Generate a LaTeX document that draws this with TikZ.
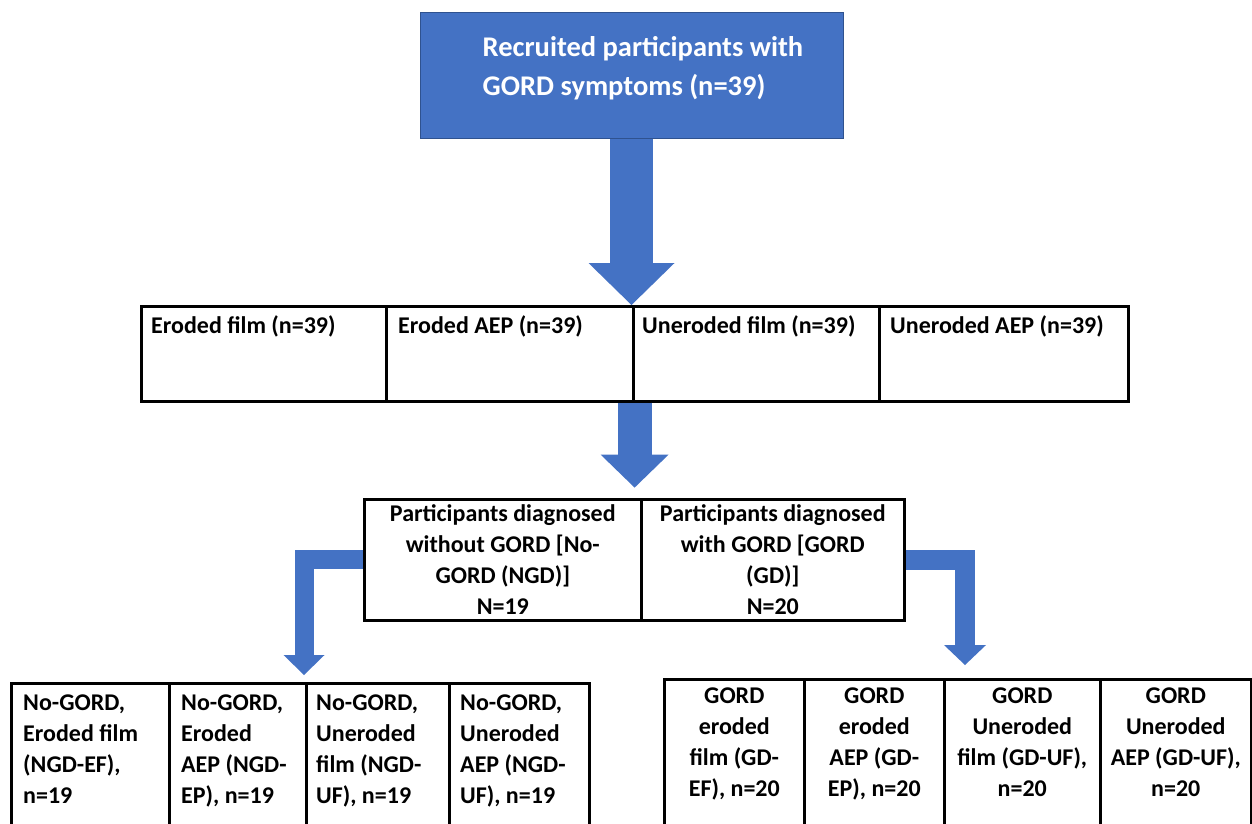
\documentclass[tikz,border=0pt]{standalone}
\usepackage{fontspec}
\setmainfont{Carlito}
\usetikzlibrary{arrows.meta}
\definecolor{boxblue}{HTML}{4472C4}
\definecolor{edgeblue}{HTML}{2F528F}

\begin{document}
\begin{tikzpicture}[x=1pt, y=-1pt,
  cell/.style={draw=black, line width=2.6pt, inner sep=0pt, anchor=north west},
  celltext/.style={font=\bfseries\fontsize{24}{31}\selectfont, inner sep=0pt},
  bigarrow/.style={draw=boxblue, line width=#1}]
\useasboundingbox (0,0) rectangle (1252,823);
\clip (0,0) rectangle (1252,823);

% Recruitment box
\node[fill=boxblue, draw=edgeblue, line width=1pt, minimum width=423pt, minimum height=126pt] (recruit) at (631.5,75) {};
\node[celltext, text=white, align=left, anchor=west, font=\bfseries\fontsize{28.5}{39}\selectfont] (recruit-t) at ([xshift=63pt, yshift=7pt]recruit.west) {Recruited participants with\\GORD symptoms (n=39)};

% Samples - one row of four cells
\node[cell, minimum width=245pt, minimum height=95pt] (ef) at (140,305) {};
\node[cell, minimum width=247pt, minimum height=95pt] (ea) at (385,305) {};
\node[cell, minimum width=246pt, minimum height=95pt] (uf) at (632,305) {};
\node[cell, minimum width=249pt, minimum height=95pt] (ua) at (878,305) {};
\node[celltext, anchor=west] (ef-t) at ([xshift=11pt, yshift=-21pt]ef.north west) {Eroded film (n=39)};
\node[celltext, anchor=west] (ea-t) at ([xshift=13pt, yshift=-21pt]ea.north west) {Eroded AEP (n=39)};
\node[celltext, anchor=west] (uf-t) at ([xshift=10pt, yshift=-21pt]uf.north west) {Uneroded film (n=39)};
\node[celltext, anchor=west] (ua-t) at ([xshift=12pt, yshift=-21pt]ua.north west) {Uneroded AEP (n=39)};

% Diagnosis split
\node[cell, minimum width=277pt, minimum height=121pt] (ngd) at (363,498) {};
\node[cell, minimum width=263pt, minimum height=121pt] (gd) at (640,498) {};
\node[celltext, align=center] (ngd-t) at (ngd.center) {Participants diagnosed\\without GORD [No-\\GORD (NGD)]\\N=19};
\node[celltext, align=center] (gd-t) at (gd.center) {Participants diagnosed\\with GORD [GORD\\(GD)]\\N=20};

% No-GORD groups
\node[cell, minimum width=158pt, minimum height=200pt] (nef) at (10,682) {};
\node[cell, minimum width=137pt, minimum height=200pt] (nea) at (168,682) {};
\node[cell, minimum width=143pt, minimum height=200pt] (nuf) at (305,682) {};
\node[cell, minimum width=140pt, minimum height=200pt] (nua) at (448,682) {};
\node[celltext, align=left, anchor=north west] (nef-t) at ([xshift=13pt, yshift=-13pt]nef.north west) {No-GORD,\\Eroded film\\(NGD-EF),\\n=19};
\node[celltext, align=left, anchor=north west] (nea-t) at ([xshift=13pt, yshift=-13pt]nea.north west) {No-GORD,\\Eroded\\AEP (NGD-\\EP), n=19};
\node[celltext, align=left, anchor=north west] (nuf-t) at ([xshift=11pt, yshift=-13pt]nuf.north west) {No-GORD,\\Uneroded\\film (NGD-\\UF), n=19};
\node[celltext, align=left, anchor=north west] (nua-t) at ([xshift=12pt, yshift=-13pt]nua.north west) {No-GORD,\\Uneroded\\AEP (NGD-\\UF), n=19};

% GORD groups
\node[cell, minimum width=140pt, minimum height=200pt] (gef) at (663,678) {};
\node[cell, minimum width=140pt, minimum height=200pt] (gea) at (803,678) {};
\node[cell, minimum width=156pt, minimum height=200pt] (guf) at (943,678) {};
\node[cell, minimum width=151pt, minimum height=200pt] (gua) at (1099,678) {};
\node[celltext, align=center, anchor=north] (gef-t) at ([yshift=-10pt]gef.north) {GORD\\eroded\\film (GD-\\EF), n=20};
\node[celltext, align=center, anchor=north] (gea-t) at ([yshift=-10pt]gea.north) {GORD\\eroded\\AEP (GD-\\EP), n=20};
\node[celltext, align=center, anchor=north] (guf-t) at ([yshift=-10pt]guf.north) {GORD\\Uneroded\\film (GD-UF),\\n=20};
\node[celltext, align=center, anchor=north] (gua-t) at ([yshift=-10pt]gua.north) {GORD\\Uneroded\\AEP (GD-UF),\\n=20};

% Block arrows
\coordinate (ltip) at (304,675);
\coordinate (rtip) at (965,665);
\draw[bigarrow=43pt, -{Triangle[length=42pt, width=86pt, line width=0pt]}] (recruit.south) -- (recruit.south |- ea.north);
\draw[bigarrow=34pt, -{Triangle[length=33pt, width=68pt, line width=0pt]}] (ea.south east) -- ++(0,85);
\draw[bigarrow=19pt, -{Triangle[length=20pt, width=41pt, line width=0pt]}] (ngd.west) -| (ltip);
\draw[bigarrow=20pt, -{Triangle[length=20pt, width=42pt, line width=0pt]}] (gd.east) -| (rtip);
\end{tikzpicture}
\end{document}
